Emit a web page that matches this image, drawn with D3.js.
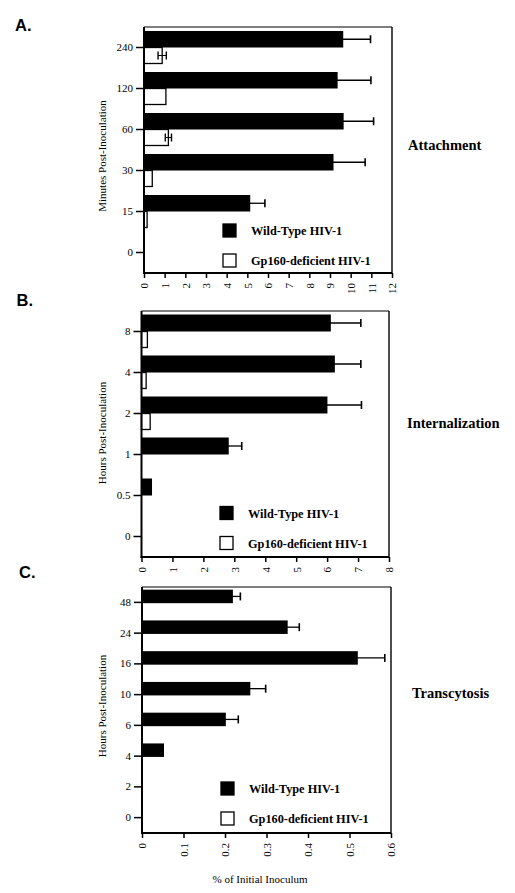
<!DOCTYPE html>
<html>
<head>
<meta charset="utf-8">
<script src="https://cdn.jsdelivr.net/npm/d3@7"></script>
<style>
  html, body { margin: 0; padding: 0; background: #fff; }
  svg { display: block; }
  text { font-family: "Liberation Serif", "Times New Roman", serif; fill: #000; }
</style>
</head>
<body>
<svg id="chart" width="515" height="893"></svg>
<script>
// ---------- Data ----------
// Panel A: Attachment (minutes post-inoculation)
const catsA = ["0", "15", "30", "60", "120", "240"];
const wtA = [0, 5.14, 9.17, 9.66, 9.37, 9.64];
const wtErrA = [0, 0.71, 1.53, 1.45, 1.61, 1.32];
const gpA = [0, 0.15, 0.40, 1.18, 1.06, 0.88];
const gpErrA = [0, 0, 0, 0.15, 0, 0.20];
const xTicksA = [0, 1, 2, 3, 4, 5, 6, 7, 8, 9, 10, 11, 12];

// Panel B: Internalization (hours post-inoculation)
const catsB = ["0", "0.5", "1", "2", "4", "8"];
const wtB = [0, 0.34, 2.82, 6.01, 6.25, 6.12];
const wtErrB = [0, 0, 0.42, 1.10, 0.84, 0.97];
const gpB = [0, 0, 0, 0.28, 0.15, 0.19];
const gpErrB = [0, 0, 0, 0, 0, 0];
const xTicksB = [0, 1, 2, 3, 4, 5, 6, 7, 8];

// Panel C: Transcytosis (hours post-inoculation)
const catsC = ["0", "2", "4", "6", "10", "16", "24", "48"];
const wtC = [0, 0, 0.053, 0.202, 0.261, 0.520, 0.351, 0.219];
const wtErrC = [0, 0, 0, 0.030, 0.037, 0.065, 0.028, 0.018];
const gpC = [0, 0, 0, 0, 0, 0, 0, 0];
const gpErrC = [0, 0, 0, 0, 0, 0, 0, 0];
const xTicksC = [0, 0.1, 0.2, 0.3, 0.4, 0.5, 0.6];

const legendLabels = ["Wild-Type HIV-1", "Gp160-deficient HIV-1"];
const xAxisTitle = "% of Initial Inoculum";

// ---------- Drawing ----------
const svg = d3.select("#chart");

function drawPanel(o) {
  const g = svg.append("g");
  const x = d3.scaleLinear().domain([0, o.xMax]).range([o.left, o.right]);
  const y = d3.scaleBand().domain(o.cats.slice().reverse()).range([o.top, o.bottom]);
  const cy = c => y(c) + y.bandwidth() / 2;

  // bars
  o.cats.forEach((c, i) => {
    const yc = cy(c);
    // wild type (black) bar, above tick
    if (o.wt[i] > 0) {
      g.append("rect")
        .attr("x", x(0)).attr("y", yc - o.barH + o.barShift)
        .attr("width", x(o.wt[i]) - x(0)).attr("height", o.barH)
        .attr("fill", "#000");
      if (o.wtErr[i] > 0) {
        const ey = yc - o.barH / 2 + o.barShift;
        const x1 = x(o.wt[i] - o.wtErr[i]), x2 = x(o.wt[i] + o.wtErr[i]);
        g.append("line").attr("x1", x1).attr("x2", x2).attr("y1", ey).attr("y2", ey)
          .attr("stroke", "#000").attr("stroke-width", 1.3);
        g.append("line").attr("x1", x2).attr("x2", x2).attr("y1", ey - 4).attr("y2", ey + 4)
          .attr("stroke", "#000").attr("stroke-width", 1.6);
      }
    }
    // gp160-deficient (white) bar, below tick
    if (o.gp[i] > 0) {
      g.append("rect")
        .attr("x", x(0)).attr("y", yc)
        .attr("width", x(o.gp[i]) - x(0)).attr("height", o.gpH)
        .attr("fill", "#fff").attr("stroke", "#000").attr("stroke-width", 1.3);
      if (o.gpErr[i] > 0) {
        const ey = yc + o.gpH / 2;
        const x1 = x(o.gp[i] - o.gpErr[i]), x2 = x(o.gp[i] + o.gpErr[i]);
        g.append("line").attr("x1", x1).attr("x2", x2).attr("y1", ey).attr("y2", ey)
          .attr("stroke", "#000").attr("stroke-width", 1);
        [x1, x2].forEach(xx => g.append("line").attr("x1", xx).attr("x2", xx)
          .attr("y1", ey - 4).attr("y2", ey + 4).attr("stroke", "#000").attr("stroke-width", 1.4));
      }
    }
  });

  // frame
  g.append("line").attr("x1", o.left).attr("x2", o.right).attr("y1", o.top).attr("y2", o.top)
    .attr("stroke", "#000").attr("stroke-width", 1.2);
  g.append("line").attr("x1", o.right).attr("x2", o.right).attr("y1", o.top).attr("y2", o.bottom)
    .attr("stroke", "#000").attr("stroke-width", 1.4);
  g.append("line").attr("x1", o.left).attr("x2", o.left).attr("y1", o.top).attr("y2", o.bottom + 1)
    .attr("stroke", "#000").attr("stroke-width", 2);
  g.append("line").attr("x1", o.left - 1).attr("x2", o.right).attr("y1", o.bottom).attr("y2", o.bottom)
    .attr("stroke", "#000").attr("stroke-width", 2);

  // y axis
  const ya = g.append("g").attr("transform", `translate(${o.left},0)`)
    .call(d3.axisLeft(y).tickSize(8).tickPadding(3));
  ya.select(".domain").remove();
  ya.selectAll(".tick line").attr("stroke-width", 1.5);
  ya.selectAll("text").attr("font-size", 11).attr("font-family", "Liberation Serif, serif");

  // x axis
  const xa = g.append("g").attr("transform", `translate(0,${o.bottom})`)
    .call(d3.axisBottom(x).tickValues(o.xTicks).tickSize(5).tickFormat(o.xFmt));
  xa.select(".domain").remove();
  xa.selectAll(".tick line").attr("stroke-width", 1.5);
  xa.selectAll("text")
    .attr("font-size", 11).attr("font-family", "Liberation Serif, serif")
    .attr("transform", "rotate(-90)")
    .attr("text-anchor", "end")
    .attr("x", -10).attr("y", 0).attr("dy", "0.35em");

  // y axis title
  g.append("text")
    .attr("transform", `translate(106,${o.yTitleY}) rotate(-90)`)
    .attr("text-anchor", "middle").attr("font-size", 11)
    .text(o.yTitle);

  // panel label
  g.append("text").attr("x", o.labelX).attr("y", o.labelY)
    .attr("font-family", "Liberation Sans, Arial, sans-serif")
    .attr("font-weight", "bold").attr("font-size", 16.5)
    .style("font-family", "'Liberation Sans', Arial, sans-serif")
    .text(o.label);

  // panel title
  g.append("text").attr("x", o.titleX).attr("y", o.titleY)
    .attr("font-weight", "bold").attr("font-size", 14.5)
    .text(o.title);

  // legend
  legendLabels.forEach((lab, i) => {
    const sy = o.legendY + i * 30;
    g.append("rect").attr("x", o.legendX).attr("y", sy).attr("width", 13).attr("height", 13)
      .attr("fill", i === 0 ? "#000" : "#fff").attr("stroke", "#000").attr("stroke-width", 1.3);
    g.append("text").attr("x", o.legendX + 28).attr("y", sy + 11)
      .attr("font-weight", "bold").attr("font-size", 12.3)
      .text(lab);
  });

  return g;
}

const intFmt = d => d3.format("d")(d);
const decFmt = d => d === 0 ? "0" : d3.format(".1f")(d);

drawPanel({
  cats: catsA, wt: wtA, wtErr: wtErrA, gp: gpA, gpErr: gpErrA,
  xMax: 12, xTicks: xTicksA, xFmt: intFmt,
  left: 144, right: 392, top: 27, bottom: 273,
  barH: 16.5, gpH: 16, barShift: 0,
  label: "A.", labelX: 15, labelY: 31,
  title: "Attachment", titleX: 408, titleY: 150,
  yTitle: "Minutes Post-Inoculation", yTitleY: 156,
  legendX: 223, legendY: 224
});

drawPanel({
  cats: catsB, wt: wtB, wtErr: wtErrB, gp: gpB, gpErr: gpErrB,
  xMax: 8, xTicks: xTicksB, xFmt: intFmt,
  left: 141.5, right: 389, top: 311, bottom: 557,
  barH: 17, gpH: 16, barShift: 0,
  label: "B.", labelX: 16.5, labelY: 306,
  title: "Internalization", titleX: 407, titleY: 428,
  yTitle: "Hours Post-Inoculation", yTitleY: 433,
  legendX: 220, legendY: 506.5
});

drawPanel({
  cats: catsC, wt: wtC, wtErr: wtErrC, gp: gpC, gpErr: gpErrC,
  xMax: 0.6, xTicks: xTicksC, xFmt: decFmt,
  left: 142, right: 391, top: 587, bottom: 833,
  barH: 13.5, gpH: 13, barShift: 0.8,
  label: "C.", labelX: 19, labelY: 577.5,
  title: "Transcytosis", titleX: 412, titleY: 698,
  yTitle: "Hours Post-Inoculation", yTitleY: 706,
  legendX: 221, legendY: 782
});

// x axis title (bottom panel)
svg.append("text").attr("x", 260).attr("y", 883)
  .attr("text-anchor", "middle").attr("font-size", 11)
  .text(xAxisTitle);
</script>
</body>
</html>
